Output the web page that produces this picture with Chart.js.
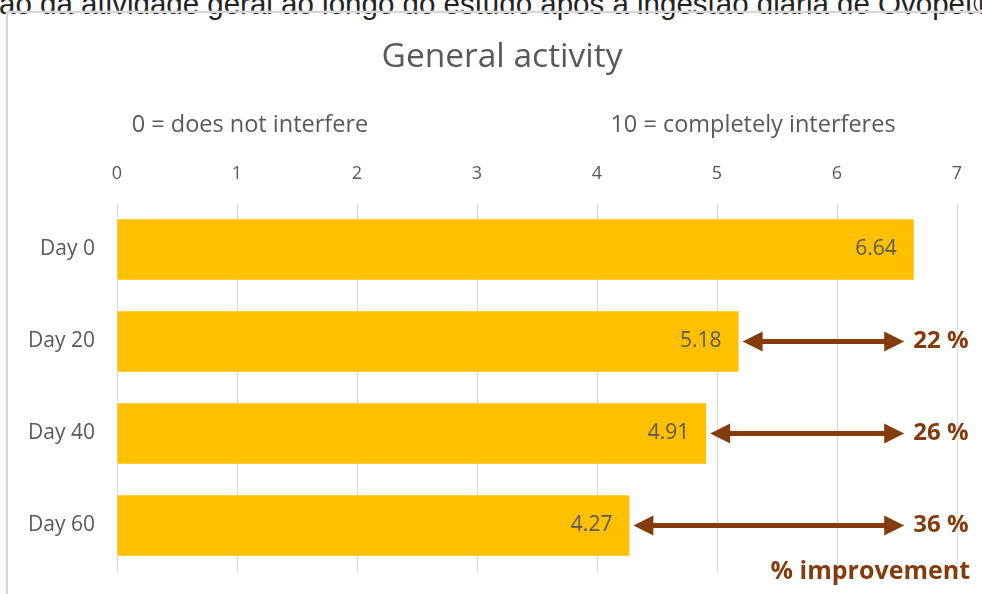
<!DOCTYPE html>
<html>
<head>
<meta charset="utf-8">
<script src="https://cdn.jsdelivr.net/npm/chart.js@4.4.1/dist/chart.umd.min.js"></script>
<style>
  html, body { margin: 0; padding: 0; background: #fff; overflow: hidden; }
  #caption {
    position: absolute; left: -1px; top: -11px;
    font: 29.5px/29.5px "Liberation Sans", Arial, sans-serif;
    color: #222; white-space: nowrap;
  }
  #frame {
    position: absolute; left: 6px; top: 11px; width: 1100px; height: 800px;
    border: 2px solid #d6d6d6; box-shadow: 0 0 2px #e6e6e6;
  }
  #chart { position: absolute; left: 0; top: 0; }
</style>
</head>
<body>
<div id="caption">ão da atividade geral ao longo do estudo após a ingestão diária de Ovopet®</div>
<div id="frame"></div>
<canvas id="chart" width="982" height="594"></canvas>
<script>
// chart data
const categories = ['Day 0', 'Day 20', 'Day 40', 'Day 60'];
const scores = [6.64, 5.18, 4.91, 4.27];
const improvement = [null, 22, 26, 36];   // % improvement vs Day 0
const chartTitle = 'General activity';
const scaleNotes = ['0 = does not interfere', '10 = completely interferes'];

const BROWN = '#843C0C';
const GREY = '#595959';
const FONT = '"Open Sans", Lato, sans-serif';

// title, value labels, arrows and notes drawn on top of the bars
const annotations = {
  id: 'annotations',
  afterDatasetsDraw(chart) {
    const ctx = chart.ctx;
    const xs = chart.scales.x;
    const ys = chart.scales.y;
    ctx.save();

    ctx.fillStyle = GREY;
    ctx.textAlign = 'center';
    ctx.textBaseline = 'middle';
    ctx.font = '33.5px ' + FONT;
    ctx.fillText(chartTitle, 502, 57);

    // scale explanation line
    ctx.font = '23.5px ' + FONT;
    ctx.fillText(scaleNotes[0], 250, 125);
    ctx.fillText(scaleNotes[1], 753, 125);

    // value labels inside the bar end
    ctx.font = '21px ' + FONT;
    ctx.textAlign = 'right';
    scores.forEach((v, i) => {
      ctx.fillText(v.toFixed(2), xs.getPixelForValue(v) - 17, ys.getPixelForValue(i));
    });

    // improvement arrows
    const xEnd = xs.getPixelForValue(6.56);
    ctx.strokeStyle = BROWN;
    ctx.fillStyle = BROWN;
    ctx.lineWidth = 5;
    improvement.forEach((p, i) => {
      if (p === null) return;
      const y = ys.getPixelForValue(i);
      const x1 = xs.getPixelForValue(scores[i]) + 4;
      const head = 20, half = 10;
      ctx.beginPath();
      ctx.moveTo(x1 + head - 2, y);
      ctx.lineTo(xEnd - head + 2, y);
      ctx.stroke();
      ctx.beginPath();
      ctx.moveTo(x1, y);
      ctx.lineTo(x1 + head, y - half);
      ctx.lineTo(x1 + head, y + half);
      ctx.closePath();
      ctx.fill();
      ctx.beginPath();
      ctx.moveTo(xEnd, y);
      ctx.lineTo(xEnd - head, y - half);
      ctx.lineTo(xEnd - head, y + half);
      ctx.closePath();
      ctx.fill();

      ctx.font = 'bold 24px ' + FONT;
      ctx.textAlign = 'left';
      ctx.fillText(p + ' %', xEnd + 9, y);
    });

    ctx.font = 'bold 25px ' + FONT;
    ctx.textAlign = 'right';
    ctx.fillText('% improvement', 970, 572);
    ctx.restore();
  }
};

new Chart(document.getElementById('chart'), {
  type: 'bar',
  data: {
    labels: categories,
    datasets: [{
      label: chartTitle,
      data: scores,
      backgroundColor: '#FFC000',
      borderWidth: 0,
      barPercentage: 0.66,
      categoryPercentage: 1
    }]
  },
  options: {
    indexAxis: 'y',
    responsive: false,
    animation: false,
    devicePixelRatio: 1,
    layout: { padding: { left: 0, right: 25, top: 0, bottom: 22.5 } },
    plugins: {
      legend: { display: false },
      tooltip: { enabled: false },
      title: { display: false }
    },
    scales: {
      x: {
        position: 'top',
        min: 0,
        max: 7,
        ticks: {
          stepSize: 1,
          color: GREY,
          padding: 19,
          font: { family: FONT, size: 18 }
        },
        grid: { color: '#d9d9d9', drawTicks: false },
        border: { display: false },
        afterFit(scale) { scale.height = 203.5; }
      },
      y: {
        ticks: {
          color: GREY,
          padding: 22,
          font: { family: FONT, size: 21 }
        },
        grid: { display: false, drawTicks: false },
        border: { display: false },
        afterFit(scale) {
          scale.width = 117;
          scale.paddingTop = 0;
          scale.paddingBottom = 0;
        }
      }
    }
  },
  plugins: [annotations]
});
</script>
</body>
</html>
